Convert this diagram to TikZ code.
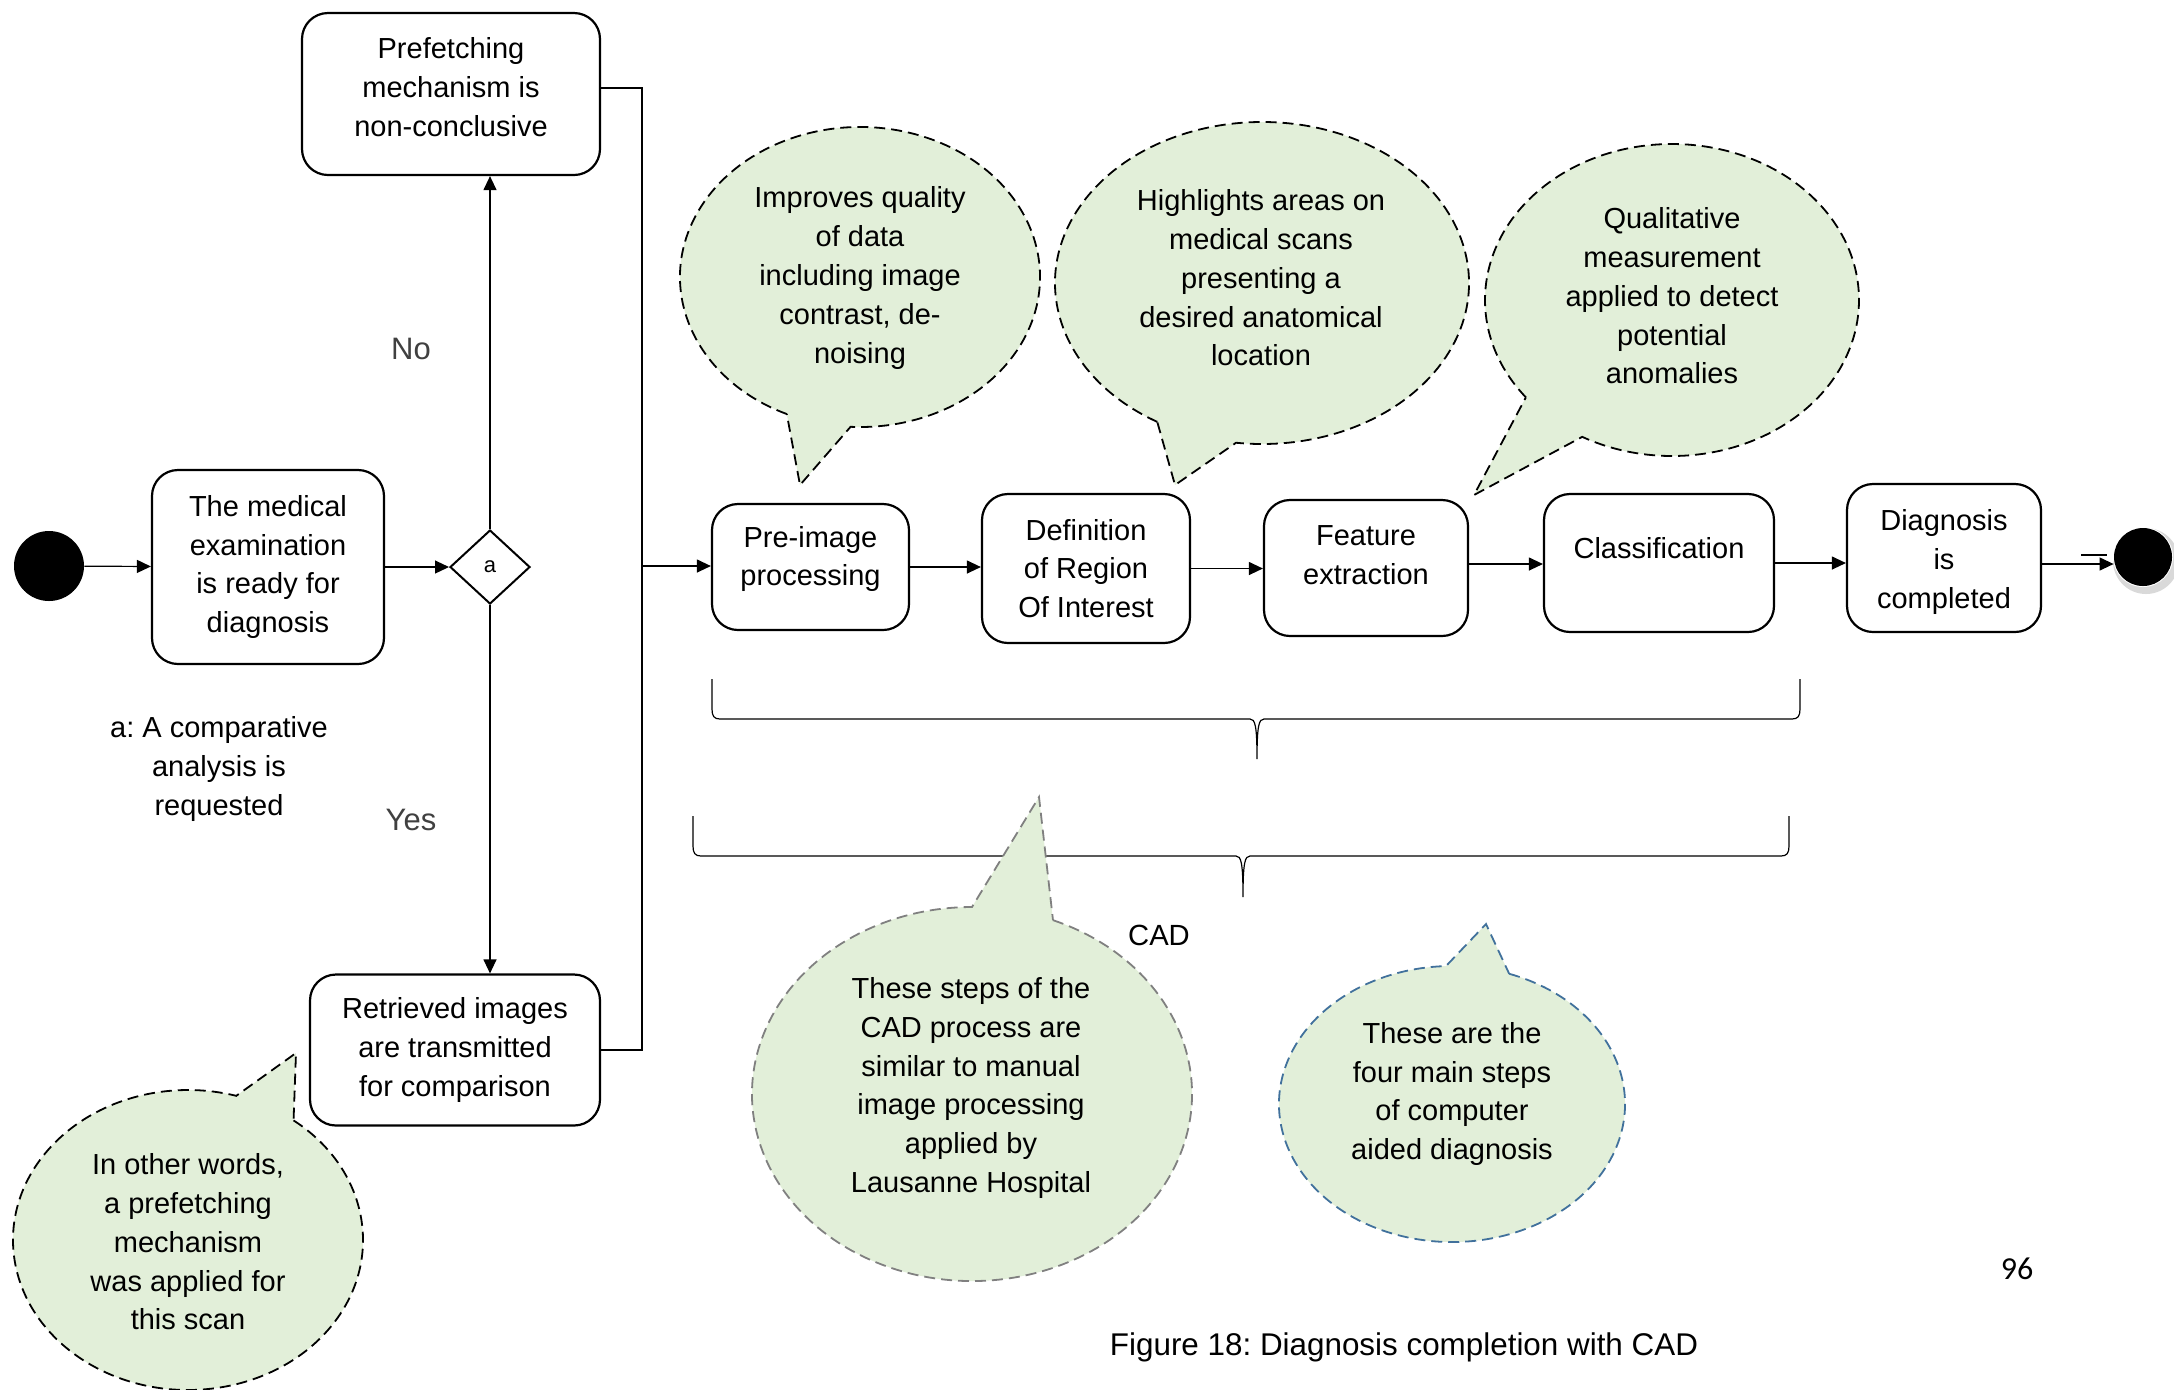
\documentclass[tikz,border=0pt]{standalone}
\usepackage{fontspec}
\setmainfont{Liberation Sans}
\newfontfamily\pagenumfont{Carlito}
\usetikzlibrary{shapes.geometric,arrows.meta}
\definecolor{bubblegreen}{RGB}{226,239,217}
\definecolor{calloutblue}{RGB}{65,113,156}
\definecolor{calloutgrey}{RGB}{128,128,128}
\newcommand\diagtext{\fontsize{14.5}{19.4}\selectfont}
\frenchspacing

\begin{document}
\begin{tikzpicture}[x=0.5pt,y=-0.5pt,
  actbox/.style={draw, line width=1.1pt, rounded corners=13pt, align=center, font=\diagtext, inner sep=2pt},
  flow/.style={line width=0.6pt, -{Triangle[length=7pt,width=6.5pt]}},
  plain/.style={line width=0.6pt},
  brace/.style={line width=0.6pt},
  bubble/.style={fill=bubblegreen, draw=black, line width=0.9pt, dash pattern=on 5.5pt off 3pt},
  note/.style={align=center, font=\diagtext},
  branchlabel/.style={font=\fontsize{15.5}{18}\selectfont, text=black!75},
  startdot/.style={circle, fill=black, minimum size=35pt, inner sep=0pt},
  enddot/.style={circle, fill=black, minimum size=29pt, inner sep=0pt},
  decision/.style={diamond, draw, line width=1pt, minimum width=40pt, minimum height=37pt, inner sep=0pt, font=\fontsize{11}{13}\selectfont}
]
\useasboundingbox (0,0) rectangle (2174,1389);

% ---- speech bubbles above the CAD steps
\filldraw[bubble] (860,277) ++(114:180 and 150) arc[start angle=114, end angle=453, x radius=180, y radius=150] -- (800,485) -- cycle;
\filldraw[bubble] (1262,283) ++(120.4:207 and 161) arc[start angle=120.4, end angle=457.2, x radius=207, y radius=161] -- (1175,485) -- cycle;
\filldraw[bubble] (1672,300) ++(141.4:187 and 156) arc[start angle=141.4, end angle=478.7, x radius=187, y radius=156] -- (1474,495) -- cycle;
% ---- bubble next to the retrieved images
\filldraw[bubble] (188,1240) ++(-52.9:175 and 150) arc[start angle=-52.9, end angle=286, x radius=175, y radius=150] -- (296,1053) -- cycle;

% ---- braces under the steps
\draw[brace] (712,679) -- (712,709) .. controls (712,716) and (714,719) .. (720,719) -- (1250,719)
  .. controls (1255,719) and (1257,725) .. (1257,759)
  .. controls (1257,725) and (1259,719) .. (1264,719) -- (1792,719)
  .. controls (1798,719) and (1800,716) .. (1800,709) -- (1800,679);
\draw[brace] (693,816) -- (693,846) .. controls (693,853) and (695,856) .. (701,856) -- (1236,856)
  .. controls (1241,856) and (1243,862) .. (1243,897)
  .. controls (1243,862) and (1245,856) .. (1250,856) -- (1781,856)
  .. controls (1787,856) and (1789,853) .. (1789,846) -- (1789,816);

% ---- bubbles below the braces
\filldraw[bubble, draw=calloutgrey] (972,1094) ++(-68.4:220 and 187) arc[start angle=-68.4, end angle=270, x radius=220, y radius=187] -- (1039,797) -- cycle;
\filldraw[bubble, draw=calloutblue] (1452,1104) ++(-70.7:173 and 138) arc[start angle=-70.7, end angle=268, x radius=173, y radius=138] -- (1486,924) -- cycle;

% ---- bubble texts
\node[note] (n1) at (860,278) {Improves quality\\of data\\including image\\contrast, de-\\noising};
\node[note] (n2) at (1261,278) {Highlights areas on\\medical scans\\presenting a\\desired anatomical\\location};
\node[note] (n3) at (1672,296) {Qualitative\\measurement\\applied to detect\\potential\\anomalies};
\node[note] (n4) at (188,1242) {In other words,\\a prefetching\\mechanism\\was applied for\\this scan};
\node[note] (n5) at (971,1088) {These steps of the\\CAD process are\\similar to manual\\image processing\\applied by\\Lausanne Hospital};
\node[note] (n6) at (1452,1094) {These are the\\four main steps\\of computer\\aided diagnosis};

% ---- activity nodes
\node[startdot] (start) at (49,566) {};
\node[actbox, minimum width=116pt, minimum height=97pt] (med) at (268,567) {The medical\\examination\\is ready for\\diagnosis};
\node[decision] (dec) at (490,567) {a};
\node[actbox, minimum width=149pt, minimum height=81pt,
  label={[note, yshift=3.5pt]center:Prefetching\\mechanism is\\non-conclusive}] (pref) at (451,94) {};
\node[actbox, minimum width=145pt, minimum height=75.5pt] (retr) at (455,1050) {Retrieved images\\are transmitted\\for comparison};
\node[actbox, minimum width=98.5pt, minimum height=63pt,
  label={[note, yshift=4pt]center:Pre-image\\processing}] (pre) at (810.5,567) {};
\node[actbox, minimum width=104pt, minimum height=74.5pt] (roi) at (1086,568.5) {Definition\\of Region\\Of Interest};
\node[actbox, minimum width=102pt, minimum height=68pt,
  label={[note, yshift=6.5pt]center:Feature\\extraction}] (feat) at (1366,568) {};
\node[actbox, minimum width=115pt, minimum height=69pt,
  label={[note, yshift=7.5pt]center:Classification}] (cls) at (1659,563) {};
\node[actbox, minimum width=97pt, minimum height=74pt,
  label={[note, yshift=-2pt]center:Diagnosis\\is\\completed}] (diag) at (1944,558) {};

% ---- final state with its shadow
\fill[gray!30] (2146,561) circle[radius=33];
\fill[white] (2143,557) circle[radius=30];
\node[enddot] (stop) at (2143,557) {};

% ---- connectors
\draw[flow] (start) -- (med);
\draw[flow] (med.east) -- (dec.west);
\draw[flow] (dec.north) -- (dec.north |- pref.south);
\draw[flow] (dec.south) -- (dec.south |- retr.north);
\coordinate (bus) at (642,566);
\draw[plain] ([yshift=3pt]pref.east) -| (bus) |- (retr.east);
\draw[flow] (bus) -- (bus -| pre.west);
\draw[flow] (pre.east) -- (pre.east -| roi.west);
\draw[flow] (roi.east) -- (roi.east -| feat.west);
\draw[flow] ([yshift=2pt]feat.east) -- ([yshift=2pt]feat.east -| cls.west);
\draw[flow] (cls.east) -- (cls.east -| diag.west);
\draw[flow] ([yshift=-3pt]diag.east) -- ([yshift=-3pt]diag.east -| stop.west);
\coordinate (tickA) at (2081,555);
\coordinate (tickB) at (2107,555);
\draw[plain] (tickA) -- (tickB);

% ---- labels
\node[branchlabel] (no) at (411,349) {No};
\node[branchlabel] (yes) at (411,820) {Yes};
\node[note] (cond) at (219,769) {a: A comparative\\analysis is\\requested};
\node[font=\fontsize{14.6}{17}\selectfont] (cadlabel) at (1159,935) {CAD};
\node[font=\fontsize{15.7}{18}\selectfont] (caption) at (1404,1347) {Figure 18: Diagnosis completion with CAD};
\node[font=\pagenumfont\fontsize{16}{18}\selectfont] (pagenum) at (2017,1269) {96};
\end{tikzpicture}
\end{document}
